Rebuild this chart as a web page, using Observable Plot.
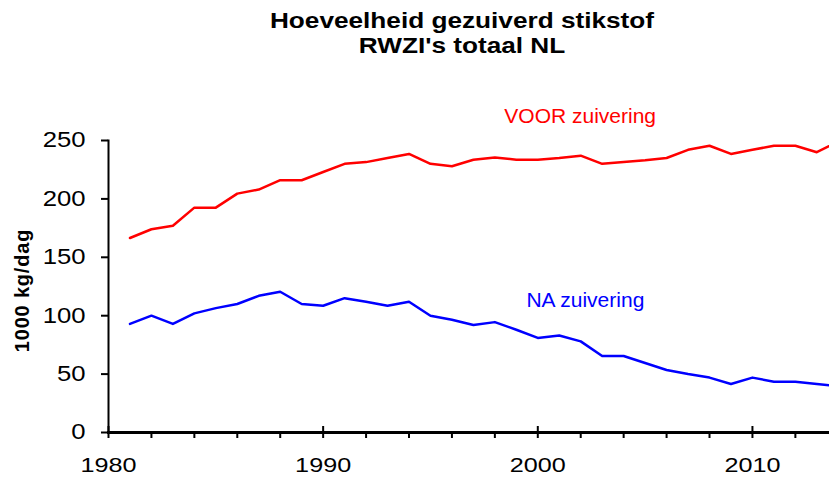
<!DOCTYPE html>
<html><head><meta charset="utf-8">
<script src="https://cdn.jsdelivr.net/npm/d3@7"></script>
<script src="https://cdn.jsdelivr.net/npm/@observablehq/plot@0.6"></script>
<style>
body{margin:0;background:#fff;font-family:"Liberation Sans",Arial,sans-serif;}
#wrap{width:829px;height:479px;position:relative;overflow:hidden;background:#fff}
#title{position:relative;height:70px}
.tl{position:absolute;left:462px;white-space:nowrap;font-weight:bold;font-size:22px;line-height:22px;transform:translateX(-50%) scaleX(1.19);color:#000}
#chart svg{display:block}
</style></head><body>
<div id="wrap">
<div id="title"><div class="tl" style="top:9.9px">Hoeveelheid gezuiverd stikstof</div><div class="tl" style="top:35.4px">RWZI's totaal NL</div></div>
<div id="chart"></div>
</div>
<script>
const years = [1981,1982,1983,1984,1985,1986,1987,1988,1989,1990,1991,1992,1993,1994,1995,1996,1997,1998,1999,2000,2001,2002,2003,2004,2005,2006,2007,2008,2009,2010,2011,2012,2013,2014];
const voor = [166.5,174,177,192.5,192.5,204.5,208,216,216,223,230,231.5,235,238.5,230,228,233.5,235.5,233.5,233.5,235,237,230,231.5,233,235,242,245.5,238.5,242,245.5,245.5,240,249];
const na = [93,100,93,102,106.5,110,117,120.5,110,108.5,115,112,108.5,112,100,96.5,92,94.5,88,81,83,78,65.5,65.5,59.5,53.5,50,47,41.5,47,43.5,43.5,41.5,39.5];
const yTicks = [0,50,100,150,200,250];
const xTicks = [1980,1990,2000,2010];
const xMinor = [1982,1984,1986,1988,1992,1994,1996,1998,2002,2004,2006,2008,2012];
const yLabel = "1000 kg/dag";
const labelText = ["VOOR zuivering","NA zuivering"];
const labelYear = [1998.44,1999.47];
const labelValue = [270.5,113];
const labelColor = ["#ff0000","#0000ff"];

const labels = labelText.map((t,i)=>({t, x:labelYear[i], y:labelValue[i], c:labelColor[i]}));

const plot = Plot.plot({
  width: 829, height: 409,
  marginTop: 70, marginBottom: 47, marginLeft: 108, marginRight: 0,
  x: {domain:[1980, 2013.59]},
  y: {domain:[0,250]},
  style: {fontFamily:'"Liberation Sans",Arial,sans-serif', fontSize:"21px", color:"#000", background:"#fff", overflow:"visible"},
  marks: [
    Plot.axisY({ticks: yTicks, tickSize:7, tickPadding:16, strokeWidth:2, fontSize:21.4, label:null, tickFormat:"d"}),
    Plot.axisX({ticks: xMinor, tickSize:6, text:null, strokeWidth:2, label:null}),
    Plot.axisX({ticks: xTicks, tickSize:12, dy:-6, text:null, strokeWidth:2, label:null}),
    Plot.axisX({ticks: xTicks, tickSize:0, tickPadding:25, tickFormat:"d", fontSize:21, label:null}),
    Plot.frame({anchor:"left", strokeWidth:2}),
    Plot.frame({anchor:"bottom", strokeWidth:3}),
    Plot.line(years, {x: years, y: voor, stroke:"#ff0000", strokeWidth:2.5, clip:true}),
    Plot.line(years, {x: years, y: na, stroke:"#0000ff", strokeWidth:2.5, clip:true}),
    Plot.text(labels, {x:"x", y:"y", text:"t", fill:"c", textAnchor:"start", fontSize:21}),
    Plot.text([yLabel], {frameAnchor:"left", textAnchor:"middle", text:d=>d, rotate:-90, dx:-86, dy:4, fontWeight:"bold", fontSize:20})
  ]
});
document.getElementById("chart").appendChild(plot);
plot.querySelectorAll('g[aria-label="y-axis tick label"] text, g[aria-label="x-axis tick label"] text').forEach(t=>{
  t.setAttribute("transform",(t.getAttribute("transform")||"")+" scale(1.2,1)");
});
plot.querySelectorAll('text').forEach(t=>{
  if (t.textContent===yLabel) t.style.letterSpacing = "0.8px";
});
</script>
</body></html>
